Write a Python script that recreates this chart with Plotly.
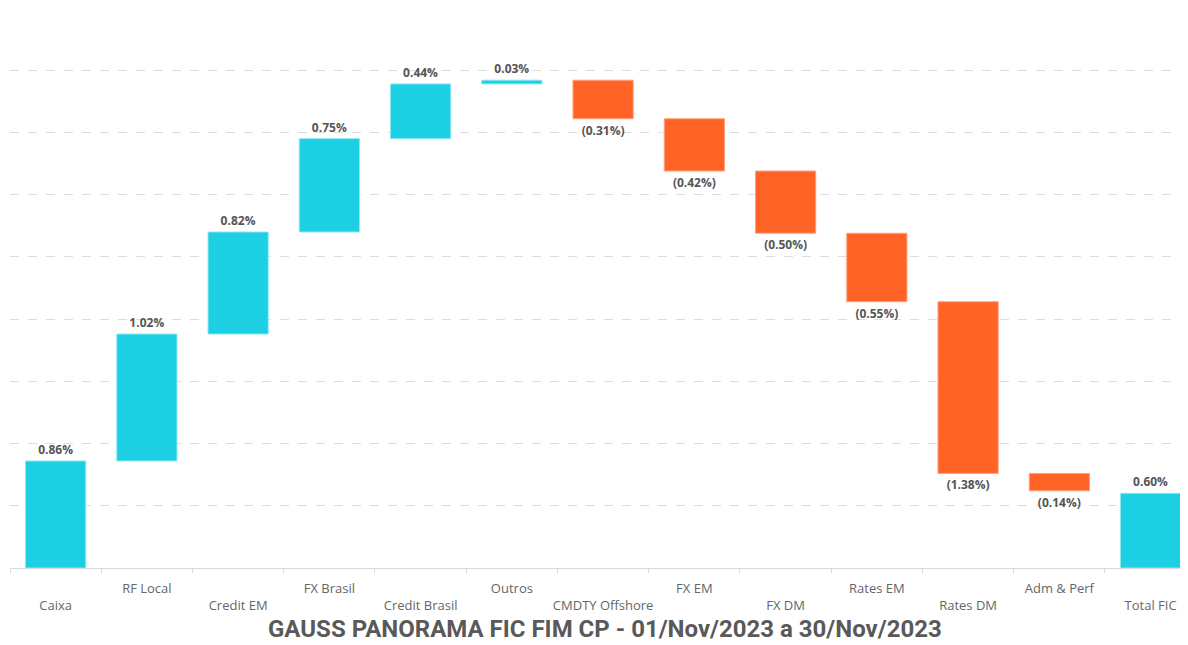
import plotly.graph_objects as go

categories = ["Caixa", "RF Local", "Credit EM", "FX Brasil", "Credit Brasil", "Outros",
              "CMDTY Offshore", "FX EM", "FX DM", "Rates EM", "Rates DM", "Adm & Perf", "Total FIC"]
values = [0.86, 1.02, 0.82, 0.75, 0.44, 0.03, -0.31, -0.42, -0.50, -0.55, -1.38, -0.14, 0.60]
measures = ["relative"] * 12 + ["absolute"]
title_text = "GAUSS PANORAMA FIC FIM CP - 01/Nov/2023 a 30/Nov/2023"

CYAN = "#1CCFE3"
ORANGE = "#FF6426"

def fmt(v):
    return f"{v:.2f}%" if v >= 0 else f"({abs(v):.2f}%)"

labels = [fmt(v) for v in values]
ticktext = [c if i % 2 else "<br>" + c for i, c in enumerate(categories)]

fig = go.Figure(go.Waterfall(
    x=categories, y=values, measure=measures,
    text=labels, textposition="outside",
    textfont=dict(family="Open Sans", size=12, color="#555555", weight="bold"),
    increasing=dict(marker=dict(color=CYAN, line=dict(color="#8FE8F1", width=1))),
    decreasing=dict(marker=dict(color=ORANGE, line=dict(color="#FFA27E", width=1))),
    totals=dict(marker=dict(color=CYAN, line=dict(color="#8FE8F1", width=1))),
    connector=dict(visible=False),
    width=0.66,
    cliponaxis=False,
))

fig.update_layout(
    width=1180, height=637,
    margin=dict(l=2, r=0, t=0, b=77),
    paper_bgcolor="white", plot_bgcolor="white",
    showlegend=False,
    font=dict(family="Open Sans", color="#666666"),
    xaxis=dict(
        tickmode="array", tickvals=categories, ticktext=ticktext,
        tickson="boundaries", ticks="outside", ticklen=4, tickcolor="#D9D9D9",
        showline=True, linecolor="#D9D9D9", linewidth=1,
        showgrid=False, range=[-0.5, 12.41], tickangle=0, automargin=False,
        ticklabelstandoff=8,
        tickfont=dict(family="Open Sans", size=13, color="#666666"),
    ),
    yaxis=dict(
        range=[0, 4.5], dtick=0.5, showticklabels=False,
        showgrid=True, gridcolor="#DDDDDD", griddash="dash", gridwidth=1,
        zeroline=False, automargin=False,
    ),
    annotations=[dict(
        text=title_text, xref="paper", yref="paper", x=0.505, y=-0.109,
        xanchor="center", yanchor="middle", showarrow=False,
        font=dict(family="Roboto", size=24, color="#595959", weight="bold"),
    )],
)

fig.write_html("out.html")
